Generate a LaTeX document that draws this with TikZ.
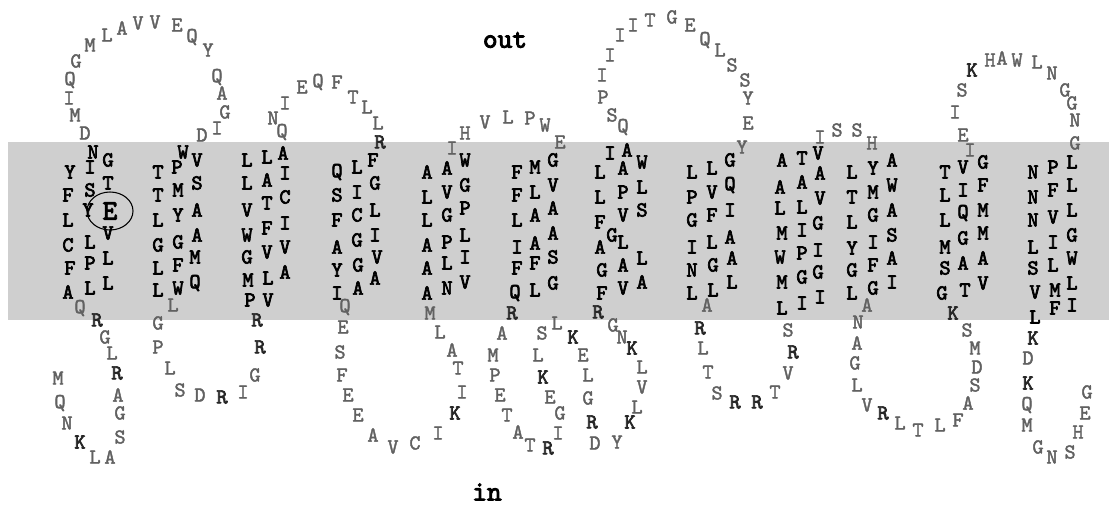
\documentclass[tikz,border=0pt]{standalone}
\usepackage{fontspec}
\newfontfamily\heavytt{lmmono10-regular.otf}[FakeBold=3.2]
\newfontfamily\midtt{lmmono10-regular.otf}[FakeBold=1.8]
\begin{document}
\begin{tikzpicture}[x=0.75pt,y=-0.75pt,
  mem/.style={font=\heavytt\fontsize{16}{16}\selectfont,text=black,inner sep=0pt},
  lp/.style={font=\midtt\fontsize{16}{16}\selectfont,text=black!62,inner sep=0pt},
  lpk/.style={font=\heavytt\fontsize{16}{16}\selectfont,text=black!85,inner sep=0pt},
  side/.style={font=\heavytt\fontsize{21}{21}\selectfont,text=black,inner sep=0pt}]
\useasboundingbox (0,0) rectangle (1109,506);
\fill[black!19] (8,142) rectangle (1109,320);
\node[side] (out) at (505,40) {out};
\node[side] (in) at (487,492) {in};
% membrane residues
\foreach \x/\y/\l in {
 93/152/N, 90/167/I, 108/160/G, 70/172/Y, 108/183/T, 90/190/S, 68/195/F, 88/210/Y, 68/220/L, 108/233/V, 90/242/L, 68/245/C, 108/258/L, 90/263/P, 70/268/F, 108/283/L, 90/288/L, 68/292/A,
 183/152/W, 197/160/V, 177/167/P, 158/172/T, 197/183/S, 178/190/M, 158/195/T, 197/210/A, 178/215/Y, 158/220/L, 197/235/A, 178/242/G, 158/245/G, 195/257/M, 178/265/F, 158/268/L, 195/283/Q, 178/288/W, 158/290/L,
 283/153/A, 267/157/L, 247/160/L, 285/173/I, 267/180/A, 247/183/L, 285/197/C, 267/203/T, 247/210/V, 285/223/I, 267/228/F, 247/235/W, 285/247/V, 267/252/V, 247/257/G, 285/272/A, 268/278/L, 248/280/M, 250/300/P, 268/300/V,
 373/160/F, 357/167/L, 337/172/Q, 375/183/G, 357/192/I, 337/195/S, 375/210/L, 357/215/C, 337/220/F, 375/235/I, 357/240/G, 337/247/A, 377/257/V, 358/265/G, 337/270/Y, 375/278/A, 358/288/A, 337/293/I,
 465/160/W, 447/168/A, 427/172/A, 465/185/G, 447/192/V, 427/197/L, 465/208/P, 447/215/G, 427/220/L, 465/235/L, 447/242/P, 427/245/A, 465/257/I, 447/263/L, 427/268/A, 465/282/V, 447/288/N, 427/293/A,
 553/160/G, 535/167/M, 517/172/F, 553/185/V, 535/192/L, 517/195/F, 553/208/A, 535/215/A, 517/220/L, 553/233/A, 535/243/A, 517/247/I, 553/257/S, 535/263/F, 517/268/F, 553/283/G, 535/290/L, 515/293/Q,
 627/150/A, 610/153/I, 642/162/W, 623/168/A, 600/172/L, 642/187/L, 623/192/P, 600/197/L, 642/210/S, 623/215/V, 600/222/F, 612/235/G, 623/242/L, 600/247/A, 642/258/L, 623/265/A, 602/270/G, 642/282/A, 623/288/V, 602/293/F,
 730/160/G, 712/168/L, 692/172/L, 730/185/Q, 712/192/V, 692/197/P, 730/210/I, 712/215/F, 692/220/G, 730/237/A, 712/242/L, 692/247/I, 732/258/A, 713/265/G, 692/270/N, 732/282/L, 713/290/L, 692/293/L,
 818/153/V, 802/158/T, 782/160/A, 820/173/A, 802/182/A, 780/187/A, 820/198/V, 802/207/L, 780/208/L, 818/223/G, 802/230/I, 782/233/M, 818/250/I, 802/253/P, 780/257/W, 818/272/G, 802/277/G, 782/282/M, 820/297/I, 802/303/I, 782/308/L,
 892/160/A, 873/168/Y, 852/172/L, 892/185/W, 873/192/M, 852/197/T, 892/210/A, 873/215/G, 852/222/L, 892/235/S, 873/242/I, 852/248/Y, 892/258/A, 873/265/F, 852/270/G, 892/282/I, 873/288/G, 852/293/L,
 983/162/G, 963/167/V, 945/172/T, 983/185/F, 963/190/I, 945/195/L, 983/210/M, 963/213/Q, 945/220/L, 983/233/M, 963/238/G, 945/247/M, 983/258/A, 963/263/A, 945/268/S, 983/283/V, 965/290/T, 942/293/G,
 1072/162/L, 1053/167/P, 1033/172/N, 1072/185/L, 1053/190/F, 1033/197/N, 1072/210/L, 1053/217/V, 1033/220/N, 1072/235/G, 1053/242/I, 1033/247/L, 1072/258/W, 1053/265/L, 1033/268/S, 1072/283/L, 1055/290/M, 1035/292/V, 1072/305/I, 1055/308/F, 1035/317/L}
 \node[mem] (m\x-\y) at (\x,\y) {\l};
% loop residues
\foreach \x/\y/\l in {
 58/378/M, 60/403/Q, 67/423/N, 95/457/L, 110/457/A, 120/437/S, 120/413/G, 118/395/A, 112/353/L, 105/337/G, 80/308/Q,
 85/133/D, 75/115/M, 69/98/I, 70/80/Q, 76/61/G, 90/45/M, 107/35/L, 122/28/A, 138/23/V, 155/22/V, 177/25/E, 192/37/Q, 208/50/Y, 217/77/Q, 222/93/A, 225/112/G, 217/128/I, 202/135/D,
 173/305/L, 158/323/G, 158/347/P, 170/368/L, 180/390/S, 200/395/D, 243/392/I, 255/375/G,
 282/132/Q, 273/118/N, 285/103/I, 302/87/E, 318/82/Q, 337/82/F, 353/97/T, 367/107/L, 378/123/L,
 345/307/Q, 343/327/E, 340/352/S, 342/375/F, 348/395/E, 358/415/E, 373/435/A, 393/447/V, 415/443/C, 438/433/I, 462/392/I, 458/368/T, 452/350/A, 440/332/L, 430/313/M,
 452/148/I, 465/133/H, 485/122/V, 508/117/L, 530/118/P, 545/125/W, 560/142/E,
 502/333/A, 493/355/M, 495/375/P, 500/395/E, 507/415/T, 518/432/A, 530/445/T, 558/433/I, 560/413/G, 550/397/E, 538/355/L, 542/333/S, 557/323/L, 583/355/E, 588/375/L, 588/398/G, 595/443/D, 617/442/Y, 637/407/L, 642/387/V, 642/367/L, 622/337/N, 613/325/G,
 623/127/Q, 612/115/S, 603/97/P, 602/75/I, 610/55/I, 620/35/I, 633/25/I, 650/20/T, 672/17/G, 690/25/E, 705/40/Q, 720/50/L, 732/65/S, 745/80/S, 748/98/Y, 748/123/E, 742/147/Y,
 707/305/A, 703/348/L, 708/372/T, 717/393/S, 775/392/T, 788/373/V, 788/330/S,
 820/137/I, 837/130/S, 857/130/S, 872/143/H,
 867/305/A, 858/322/N, 857/343/A, 855/363/G, 857/385/L, 867/405/V, 900/423/L, 918/430/T, 940/425/L, 958/420/F, 968/403/A, 975/385/S, 977/367/D, 975/348/M, 967/330/S,
 970/150/I, 963/135/E, 955/112/I, 962/90/S, 990/60/H, 1002/58/A, 1017/60/W, 1037/62/L, 1052/73/N, 1065/90/G, 1072/103/G, 1075/120/N, 1075/143/G,
 1028/358/D, 1027/405/Q, 1027/425/M, 1038/447/G, 1052/457/N, 1070/452/S, 1078/432/H, 1085/413/E, 1087/392/G}
 \node[lp] (l\x-\y) at (\x,\y) {\l};
% charged loop residues (bold)
\foreach \x/\y/\l in {
 80/442/K, 117/373/R, 97/320/R, 222/397/R, 260/347/R, 257/320/R, 380/142/R, 455/413/K,
 512/313/R, 548/448/R, 543/377/K, 573/337/K, 592/422/R, 630/422/K, 632/348/K, 598/312/R,
 700/328/R, 735/402/R, 757/402/R, 793/352/R, 883/413/R, 953/313/K, 972/70/K, 1033/338/K, 1028/383/K}
 \node[lpk] (k\x-\y) at (\x,\y) {\l};
% circled glutamate
\node[mem,font=\heavytt\fontsize{21}{21}\selectfont] (glu) at (110,211) {E};
\draw[black,line width=0.8pt] (glu) ellipse [x radius=23, y radius=19];
\end{tikzpicture}
\end{document}
